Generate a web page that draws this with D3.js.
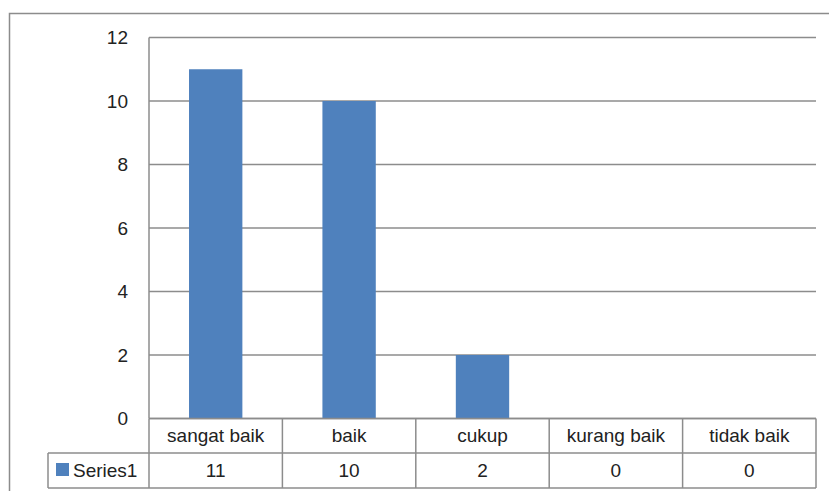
<!DOCTYPE html>
<html><head><meta charset="utf-8">
<script src="https://cdn.jsdelivr.net/npm/d3@7"></script>
<style>body{margin:0;background:#fff}svg{display:block}</style>
</head><body>
<script>
const categories = ["sangat baik", "baik", "cukup", "kurang baik", "tidak baik"];
const values = [11, 10, 2, 0, 0];
const yTicks = [0, 2, 4, 6, 8, 10, 12];
const seriesName = "Series1";

(function () {
const W = 829, H = 491;
const svg = d3.select("body").append("svg").attr("width", W).attr("height", H);
const font = "'Liberation Sans', Arial, sans-serif";
const fs = 19;
const grid = "#8c8c8c";

svg.append("rect").attr("x", 9.5).attr("y", 13.5).attr("width", W + 10).attr("height", H + 10)
  .attr("fill", "none").attr("stroke", grid).attr("stroke-width", 1.5);

const pLeft = 149, pRight = 816, pTop = 37.5, pBottom = 418.5;
const band = d3.scaleBand().domain(categories).range([pLeft, pRight]);
const y = d3.scaleLinear().domain([0, 12]).range([pBottom, pTop]);

svg.append("g").selectAll("line").data(yTicks).join("line")
  .attr("x1", pLeft).attr("x2", pRight).attr("y1", d => y(d)).attr("y2", d => y(d))
  .attr("stroke", grid).attr("stroke-width", 1.5);
svg.append("line").attr("x1", pLeft).attr("x2", pLeft).attr("y1", pTop).attr("y2", pBottom)
  .attr("stroke", grid).attr("stroke-width", 1.5);

svg.append("g").selectAll("text").data(yTicks).join("text")
  .attr("x", 128).attr("y", d => y(d)).attr("dy", "0.35em").attr("text-anchor", "end")
  .attr("font-family", font).attr("font-size", fs).attr("fill", "#222").text(d => d);

const bw = band.bandwidth() / 2.5;
svg.append("g").selectAll("rect").data(values).join("rect")
  .attr("x", (d, i) => band(categories[i]) + band.bandwidth() / 2 - bw / 2)
  .attr("width", bw)
  .attr("y", d => y(d)).attr("height", d => y(0) - y(d))
  .attr("fill", "#4F81BD");

const rowTop = pBottom, rowMid = 453, rowBot = 488, tblLeft = 48;
const tg = svg.append("g").attr("stroke", grid).attr("stroke-width", 1.5);
tg.append("line").attr("x1", pLeft).attr("x2", pRight).attr("y1", rowTop).attr("y2", rowTop);
tg.append("line").attr("x1", tblLeft).attr("x2", pRight).attr("y1", rowMid).attr("y2", rowMid);
tg.append("line").attr("x1", tblLeft).attr("x2", pRight).attr("y1", rowBot).attr("y2", rowBot);
tg.append("line").attr("x1", tblLeft).attr("x2", tblLeft).attr("y1", rowMid).attr("y2", rowBot);
tg.selectAll(".v").data(categories).join("line").attr("class", "v")
  .attr("x1", d => band(d) + band.bandwidth()).attr("x2", d => band(d) + band.bandwidth())
  .attr("y1", rowTop).attr("y2", rowBot);
tg.append("line").attr("x1", pLeft).attr("x2", pLeft).attr("y1", rowTop).attr("y2", rowBot);

svg.append("g").selectAll("text").data(categories).join("text")
  .attr("x", d => band(d) + band.bandwidth() / 2).attr("y", (rowTop + rowMid) / 2).attr("dy", "0.35em")
  .attr("text-anchor", "middle").attr("font-family", font).attr("font-size", fs).attr("fill", "#222")
  .text(d => d);
svg.append("g").selectAll("text").data(values).join("text")
  .attr("x", (d, i) => band(categories[i]) + band.bandwidth() / 2).attr("y", (rowMid + rowBot) / 2).attr("dy", "0.35em")
  .attr("text-anchor", "middle").attr("font-family", font).attr("font-size", fs).attr("fill", "#222")
  .text(d => d);

svg.append("rect").attr("x", 56).attr("y", 463).attr("width", 13).attr("height", 13).attr("fill", "#4F81BD");
svg.append("text").attr("x", 73).attr("y", (rowMid + rowBot) / 2).attr("dy", "0.35em")
  .attr("font-family", font).attr("font-size", fs).attr("fill", "#222").text(seriesName);
})();
</script>
</body></html>
